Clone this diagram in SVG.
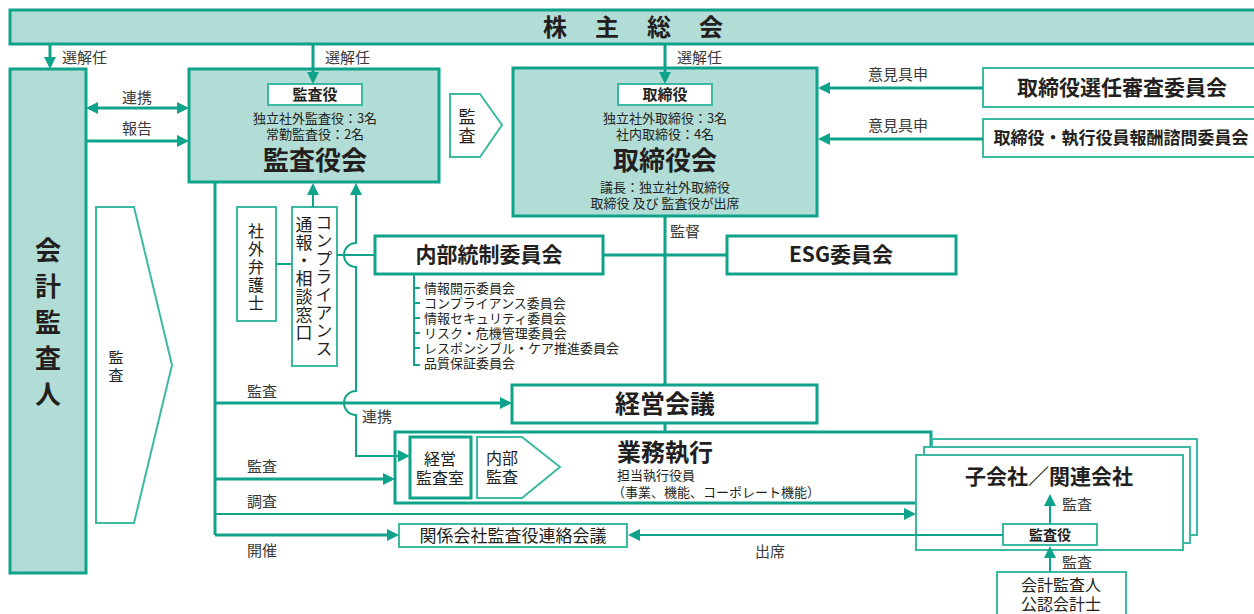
<svg xmlns="http://www.w3.org/2000/svg" width="1254" height="614" viewBox="0 0 1254 614">
<defs>
<style>
.t{font-family:"Noto Sans CJK JP","Noto Sans",sans-serif;fill:#231f20}
.b{font-weight:bold}
.lb{font-family:"Noto Sans CJK JP","Noto Sans",sans-serif;fill:#3a3a3a;font-size:15px}
.m{text-anchor:middle}
.v{writing-mode:vertical-rl;text-orientation:upright}
.thick{fill:none;stroke:#0ea38a;stroke-width:3}
.thin{fill:none;stroke:#0ea38a;stroke-width:2}
.box{fill:#fff;stroke:#0ea38a;stroke-width:3}
.lbox{fill:#fff;stroke:#3cb9a2;stroke-width:2}
.fill{fill:#b2ddd6;stroke:#0ea38a;stroke-width:3}
</style>
<marker id="ah" viewBox="0 0 12 12" refX="9" refY="6" markerWidth="12" markerHeight="12" markerUnits="userSpaceOnUse" orient="auto-start-reverse"><path d="M0,0L12,6L0,12z" fill="#0ea38a"/></marker>
</defs>

<g id="agm">
<rect class="fill" x="10" y="10" width="1250" height="34"/>
<text class="t b" x="543" y="36" font-size="24" letter-spacing="28">株主総会</text>
</g>

<g id="auditor">
<rect class="fill" x="10" y="69" width="76" height="504"/>
<text class="t b v" x="48" y="237" font-size="26" letter-spacing="10">会計監査人</text>
</g>

<g id="audit-arrow-left">
<polygon class="lbox" points="96,207 134,207 172,365 134,523 96,523"/>
<text class="t v" x="116" y="349.5" font-size="15" letter-spacing="3">監査</text>
</g>

<g id="kansayakukai">
<rect class="fill" x="189" y="69" width="250" height="113"/>
<rect class="lbox" x="268" y="84" width="94" height="21"/>
<text class="t b m" x="315" y="100" font-size="15">監査役</text>
<text class="t m" x="315" y="123" font-size="13">独立社外監査役：3名</text>
<text class="t m" x="315" y="139" font-size="13">常勤監査役：2名</text>
<text class="t b m" x="315" y="170" font-size="26">監査役会</text>
</g>

<g id="audit-arrow-mid">
<polygon class="lbox" points="450,94 480,94 502,125 480,157 450,157"/>
<text class="t v" x="467" y="108.5" font-size="17" letter-spacing="2">監査</text>
</g>

<g id="torishimariyakukai">
<rect class="fill" x="513" y="68" width="304" height="148"/>
<rect class="lbox" x="618" y="84" width="94" height="21"/>
<text class="t b m" x="665" y="100" font-size="15">取締役</text>
<text class="t m" x="665" y="123" font-size="13">独立社外取締役：3名</text>
<text class="t m" x="665" y="139" font-size="13">社内取締役：4名</text>
<text class="t b m" x="665" y="170" font-size="26">取締役会</text>
<text class="t m" x="665" y="192" font-size="13">議長：独立社外取締役</text>
<text class="t m" x="665" y="208" font-size="13">取締役 及び 監査役が出席</text>
</g>

<g id="nomination">
<rect class="lbox" x="983" y="68" width="280" height="39"/>
<text class="t b m" x="1122" y="95" font-size="21">取締役選任審査委員会</text>
</g>

<g id="compensation">
<rect class="lbox" x="983" y="119" width="280" height="38"/>
<text class="t b m" x="1121" y="144" font-size="17">取締役・執行役員報酬諮問委員会</text>
</g>

<g id="lawyer">
<rect class="lbox" x="237" y="207" width="39" height="114"/>
<text class="t v" x="256" y="223" font-size="16" letter-spacing="2">社外弁護士</text>
</g>

<g id="compliance">
<rect class="lbox" x="292" y="207" width="45" height="159"/>
<text class="t v" x="304" y="216.5" font-size="17" letter-spacing="1">通報・相談窓口</text>
<text class="t v" x="324" y="214.5" font-size="17" letter-spacing="1">コンプライアンス</text>
</g>

<g id="internal-control">
<rect class="box" x="375" y="236" width="228" height="38"/>
<text class="t b m" x="489" y="262" font-size="21">内部統制委員会</text>
<text class="t" x="424" y="293" font-size="13" fill="#333">情報開示委員会</text>
<text class="t" x="424" y="308" font-size="13" fill="#333">コンプライアンス委員会</text>
<text class="t" x="424" y="323" font-size="13" fill="#333">情報セキュリティ委員会</text>
<text class="t" x="424" y="338" font-size="13" fill="#333">リスク・危機管理委員会</text>
<text class="t" x="424" y="353" font-size="13" fill="#333">レスポンシブル・ケア推進委員会</text>
<text class="t" x="424" y="368" font-size="13" fill="#333">品質保証委員会</text>
</g>

<g id="esg">
<rect class="box" x="727" y="236" width="229" height="38"/>
<text class="t b m" x="841" y="262" font-size="21">ESG委員会</text>
</g>

<g id="keiei-kaigi">
<rect class="box" x="512" y="385" width="305" height="38"/>
<text class="t b m" x="665" y="413" font-size="25">経営会議</text>
</g>

<g id="gyomu">
<rect class="box" x="395" y="432" width="536" height="71"/>
<rect class="box" x="410" y="437" width="61" height="61"/>
<text class="t m" x="440" y="465" font-size="16">経営</text>
<text class="t m" x="440" y="484" font-size="16">監査室</text>
<polygon class="lbox" points="477,437 522,437 560,467 522,498 477,498"/>
<text class="t" x="486" y="464" font-size="16">内部</text>
<text class="t" x="486" y="483" font-size="16">監査</text>
<text class="t b" x="617" y="461" font-size="24">業務執行</text>
<text class="t" x="617" y="480" font-size="13">担当執行役員</text>
<text class="t" x="612" y="497" font-size="13">（事業、機能、コーポレート機能）</text>
</g>

<g id="renraku">
<rect class="lbox" x="399" y="524" width="228" height="23"/>
<text class="t m" x="513" y="542" font-size="17">関係会社監査役連絡会議</text>
</g>

<g id="subsidiaries">
<rect class="lbox" x="932" y="439" width="265" height="96"/>
<rect class="lbox" x="924" y="447" width="266" height="96"/>
<rect class="lbox" x="916" y="455" width="267" height="95"/>
<text class="t b m" x="1049" y="484" font-size="21">子会社／関連会社</text>
<rect class="lbox" x="1003" y="524" width="94" height="21"/>
<text class="t b m" x="1050" y="540" font-size="14">監査役</text>
</g>

<g id="cpa">
<rect class="lbox" x="997" y="572" width="129" height="50"/>
<text class="t m" x="1061" y="591" font-size="16" fill="#333">会計監査人</text>
<text class="t m" x="1061" y="610" font-size="16" fill="#333">公認会計士</text>
</g>

<g id="connectors">
<path class="thick" d="M50,44V66" marker-end="url(#ah)"/>
<path class="thick" d="M313,44V81" marker-end="url(#ah)"/>
<path class="thick" d="M665,44V81" marker-end="url(#ah)"/>
<path class="thick" d="M89,108H186" marker-start="url(#ah)" marker-end="url(#ah)"/>
<path class="thick" d="M86,141H186" marker-end="url(#ah)"/>
<path class="thick" d="M983,88H821" marker-end="url(#ah)"/>
<path class="thick" d="M983,139H821" marker-end="url(#ah)"/>
<path class="thick" d="M665,216V385M665,423V432"/>
<path class="thick" d="M603,255H727"/>
<path class="thick" d="M215,182V535"/>
<path class="thick" d="M215,403H509" marker-end="url(#ah)"/>
<path class="thick" d="M215,479H392" marker-end="url(#ah)"/>
<path class="thin" d="M215,514H913" marker-end="url(#ah)"/>
<path class="thick" d="M215,535H396" marker-end="url(#ah)"/>
<path class="thin" d="M1003,535H631" marker-end="url(#ah)"/>
<path class="thin" d="M313,207V186" marker-end="url(#ah)"/>
<path class="thin" d="M276,264H292"/>
<path class="thin" d="M337,255H375"/>
<path class="thin" d="M356,186V243A12,12 0 0 0 356,267V391A12,12 0 0 0 356,415V456H407" marker-start="url(#ah)" marker-end="url(#ah)"/>
<path class="thin" d="M1050,524V497" marker-end="url(#ah)"/>
<path class="thin" d="M1050,572V549" marker-end="url(#ah)"/>
<path class="thin" d="M414,274V365H420M414,288H420M414,303H420M414,318H420M414,333H420M414,348H420" stroke-width="1.5"/>
<text class="lb" x="62" y="63">選解任</text>
<text class="lb" x="325" y="63">選解任</text>
<text class="lb" x="677" y="63">選解任</text>
<text class="lb" x="122" y="103">連携</text>
<text class="lb" x="122" y="134">報告</text>
<text class="lb" x="868" y="80">意見具申</text>
<text class="lb" x="868" y="131">意見具申</text>
<text class="lb" x="670" y="237">監督</text>
<text class="lb" x="247" y="397">監査</text>
<text class="lb" x="362" y="422">連携</text>
<text class="lb" x="247" y="472">監査</text>
<text class="lb" x="247" y="507">調査</text>
<text class="lb" x="247" y="556">開催</text>
<text class="lb" x="755" y="557">出席</text>
<text class="lb" x="1062" y="510">監査</text>
<text class="lb" x="1062" y="568">監査</text>
</g>
</svg>
